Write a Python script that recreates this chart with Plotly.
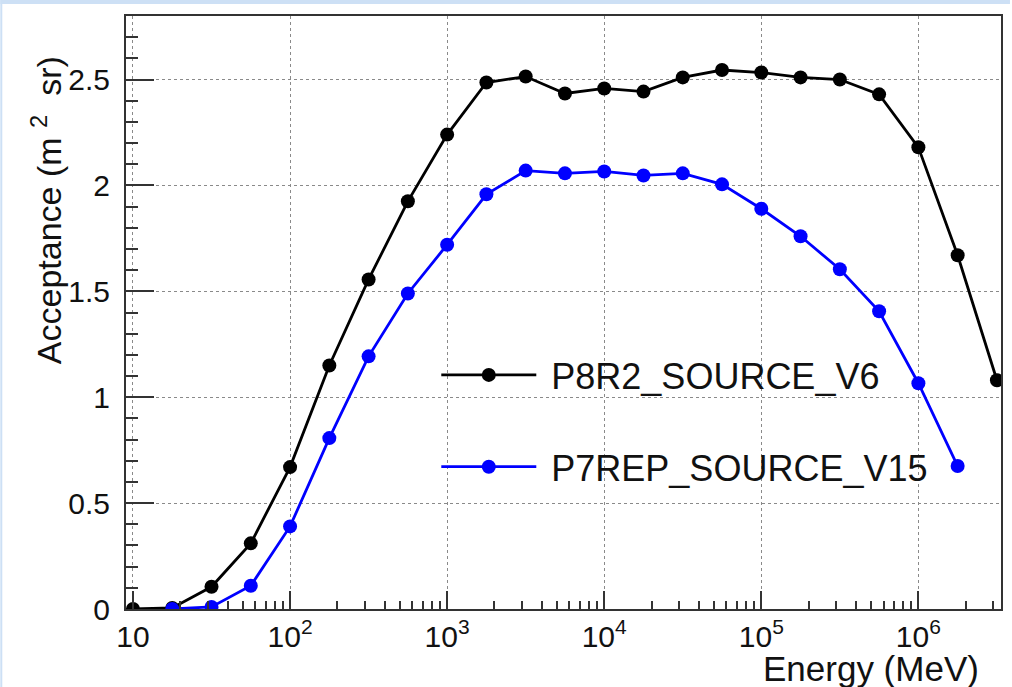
import plotly.graph_objects as go

# ---- data ----
energy_p8 = [10, 17.78, 31.62, 56.23, 100, 177.8, 316.2, 562.3, 1000, 1778, 3162, 5623,
             1e4, 17783, 31623, 56234, 1e5, 177828, 316228, 562341, 1e6, 1778279, 3162278]
accept_p8 = [0.0, 0.005, 0.105, 0.31, 0.67, 1.15, 1.556, 1.925, 2.24, 2.486, 2.514, 2.434,
             2.458, 2.443, 2.51, 2.545, 2.533, 2.51, 2.50, 2.43, 2.18, 1.67, 1.08]

energy_p7 = [17.78, 31.62, 56.23, 100, 177.8, 316.2, 562.3, 1000, 1778, 3162, 5623,
             1e4, 17783, 31623, 56234, 1e5, 177828, 316228, 562341, 1e6, 1778279]
accept_p7 = [0.0, 0.01, 0.11, 0.39, 0.807, 1.193, 1.49, 1.72, 1.958, 2.07, 2.057,
             2.066, 2.047, 2.057, 2.005, 1.89, 1.76, 1.604, 1.406, 1.066, 0.675]

series_names = ["P8R2_SOURCE_V6", "P7REP_SOURCE_V15"]
series_colors = ["#000000", "#0000ff"]

x_tickvals = [10, 100, 1000, 1e4, 1e5, 1e6]
x_ticktext = ["10", "10<sup>2</sup>", "10<sup>3</sup>", "10<sup>4</sup>", "10<sup>5</sup>", "10<sup>6</sup>"]
y_tickvals = [0, 0.5, 1, 1.5, 2, 2.5]
y_ticktext = ["0", "0.5", "1", "1.5", "2", "2.5"]

FONT = "Liberation Sans, Arial, Helvetica, sans-serif"
AXC = "#333333"
GRIDC = "#8a8a8a"

fig = go.Figure()
for i, (xs, ys) in enumerate([(energy_p8, accept_p8), (energy_p7, accept_p7)]):
    fig.add_trace(go.Scatter(
        x=xs, y=ys, mode="lines+markers", name="\u00a0" + series_names[i],
        line=dict(color=series_colors[i], width=2.8),
        marker=dict(color=series_colors[i], size=14, symbol="circle"),
        legendgroup=f"g{i}",
    ))

fig.update_layout(
    width=1012, height=687,
    margin=dict(l=126, r=9, t=16, b=78),
    paper_bgcolor="white", plot_bgcolor="white",
    font=dict(family=FONT, color="#111111"),
    showlegend=True,
    legend=dict(
        x=(437 - 126) / 877, y=(609 - 345) / 593, xanchor="left", yanchor="top",
        bgcolor="rgba(0,0,0,0)", borderwidth=0,
        font=dict(family=FONT, size=36, color="#111111"),
        tracegroupgap=42, itemwidth=95,
    ),
    xaxis=dict(
        type="log", range=[0.9555, 6.526],
        tickmode="array", tickvals=x_tickvals, ticktext=x_ticktext,
        ticks="inside", ticklen=18, tickwidth=1.5, tickcolor=AXC,
        showline=True, linecolor=AXC, linewidth=2, mirror=True,
        showgrid=True, gridcolor=GRIDC, griddash="dot", gridwidth=1,
        tickfont=dict(family=FONT, size=30, color="#111111"),
        minor=dict(dtick="D1", ticks="inside", ticklen=8, tickwidth=1.5, tickcolor=AXC, showgrid=False),
        zeroline=False,
    ),
    yaxis=dict(
        range=[0, 2.8],
        tickmode="array", tickvals=y_tickvals, ticktext=y_ticktext,
        ticks="inside", ticklen=28, tickwidth=1.5, tickcolor=AXC,
        showline=True, linecolor=AXC, linewidth=2, mirror=True,
        showgrid=True, gridcolor=GRIDC, griddash="dot", gridwidth=1,
        tickfont=dict(family=FONT, size=30, color="#111111"),
        minor=dict(dtick=0.1, ticks="inside", ticklen=12, tickwidth=1.5, tickcolor=AXC, showgrid=False),
        zeroline=False, ticklabelstandoff=8,
    ),
)

# axis titles (ROOT style: aligned to the end of the axes)
fig.add_annotation(
    text="Energy (MeV)", xref="paper", yref="paper",
    x=(983 - 126) / 877, y=(609 - 647) / 593, xanchor="right", yanchor="top",
    showarrow=False, font=dict(family=FONT, size=35, color="#111111"),
)
fig.add_annotation(
    text="Acceptance (m <sup>2</sup>  sr)", xref="paper", yref="paper",
    x=(46 - 126) / 877, y=(609 - 54) / 593, xanchor="center", yanchor="top",
    textangle=-90, showarrow=False, font=dict(family=FONT, size=34, color="#111111"),
)

# light blue window frame (top and left edges)
BORDER = "#cde0f5"
fig.add_shape(type="rect", xref="paper", yref="paper", layer="above",
              x0=-126 / 877, x1=(1012 - 126) / 877, y0=1 + 12 / 593, y1=1 + 16 / 593,
              fillcolor=BORDER, line=dict(width=0))
fig.add_shape(type="rect", xref="paper", yref="paper", layer="above",
              x0=-126 / 877, x1=-124 / 877, y0=-78 / 593, y1=1 + 16 / 593,
              fillcolor=BORDER, line=dict(width=0))

fig.write_html("out.html")
